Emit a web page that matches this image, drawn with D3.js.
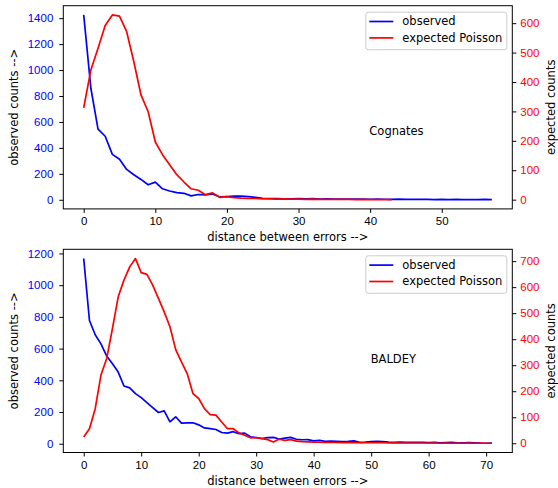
<!DOCTYPE html>
<html>
<head>
  <meta charset="utf-8"/>
  <title>distance between errors</title>
  <script src="https://cdn.jsdelivr.net/npm/d3@7/dist/d3.min.js"></script>
  <style>
    html, body { margin:0; padding:0; background:#fff; }
    svg { display:block; font-family:"DejaVu Sans", sans-serif; }
    .axis text { font-size:11.5px; }
    .axis path, .axis line { stroke:#000; }
  </style>
</head>
<body>
<svg width="558" height="488"></svg>
<script>
// --- data ---
const cognObserved = [1425, 860, 545, 490, 350, 312, 234, 193, 157, 116, 136, 85, 68, 55, 50, 30,
  41, 38, 45, 22, 25, 28, 28, 25, 18, 12, 10, 9, 8, 8, 10, 7, 9, 6, 7, 6, 5, 6, 5, 6, 4, 5, 4, 3,
  5, 3, 3, 4, 3, 2, 3, 2, 3, 2, 2, 1, 3, 2];
const cognExpected = [312, 441, 515, 592, 628, 624, 571, 469, 356, 299, 196, 153, 119, 85, 60, 37,
  32, 17, 23, 8, 10, 7, 5, 4, 4, 3, 3, 2, 3, 2, 2, 1, 2, 1, 1, 1, 1, 1, 0, 1, 0, 0, 0, 0];

const baldObserved = [1168, 777, 687, 630, 553, 504, 452, 364, 352, 316, 291, 259, 228, 197, 207,
  138, 170, 130, 132, 132, 119, 100, 95, 90, 71, 67, 76, 64, 67, 44, 38, 33, 38, 40, 30, 35, 40,
  28, 25, 26, 18, 22, 15, 16, 15, 14, 15, 18, 9, 10, 14, 15, 13, 10, 9, 10, 9, 8, 9, 8, 7, 8, 6,
  7, 8, 6, 5, 7, 6, 4, 3, 4];
const baldExpected = [24, 56, 133, 262, 326, 441, 563, 627, 678, 710, 656, 649, 608, 557, 505, 448,
  360, 313, 268, 191, 172, 133, 110, 108, 82, 56, 56, 40, 31, 21, 22, 18, 14, 5, 16, 11, 14, 8, 6,
  5, 4, 4, 3, 3, 3, 2, 3, 2, 2, 2, 2, 2, 2, 1, 2, 1, 1, 1, 1, 1, 1, 1, 0, 1, 0, 1, 0, 1, 0, 1, 0, 0];

const cognXTicks  = [0, 10, 20, 30, 40, 50];
const cognLTicks  = [0, 200, 400, 600, 800, 1000, 1200, 1400];
const cognRTicks  = [0, 100, 200, 300, 400, 500, 600];
const baldXTicks  = [0, 10, 20, 30, 40, 50, 60, 70];
const baldLTicks  = [0, 200, 400, 600, 800, 1000, 1200];
const baldRTicks  = [0, 100, 200, 300, 400, 500, 600, 700];

const seriesNames = ["observed", "expected Poisson"];
const BLUE = "#0000ff", RED = "#ff0000";
const fmt = d3.format("d");

const svg = d3.select("svg");

// matplotlib style autoscale: 5% margin on each side
function padded(ext) {
  const m = (ext[1] - ext[0]) * 0.05;
  return [ext[0] - m, ext[1] + m];
}

function panel(top, observed, expected, xTicks, lTicks, rTicks, title, titlePos) {
  const L = 63.3, R = 512.3, T = top, B = top + 203.2;
  const g = svg.append("g");

  const n = Math.max(observed.length, expected.length);
  const x  = d3.scaleLinear().domain(padded([0, n - 1])).range([L, R]);
  const yl = d3.scaleLinear().domain(padded(d3.extent(observed))).range([B, T]);
  const yr = d3.scaleLinear().domain(padded(d3.extent(expected))).range([B, T]);

  const line = (ys) => d3.line().x((d, i) => x(i)).y(d => ys(d));

  g.append("path").datum(observed)
    .attr("d", line(yl)).attr("fill", "none")
    .attr("stroke", BLUE).attr("stroke-width", 1.7).attr("stroke-linejoin", "round");
  g.append("path").datum(expected)
    .attr("d", line(yr)).attr("fill", "none")
    .attr("stroke", RED).attr("stroke-width", 1.7).attr("stroke-linejoin", "round");

  // axes
  const ax = g.append("g").attr("class", "axis").attr("transform", `translate(0,${B})`)
    .call(d3.axisBottom(x).tickValues(xTicks).tickFormat(fmt).tickSize(4).tickPadding(4));
  ax.select(".domain").remove();
  ax.selectAll("text").attr("fill", "#000");

  const al = g.append("g").attr("class", "axis").attr("transform", `translate(${L},0)`)
    .call(d3.axisLeft(yl).tickValues(lTicks).tickFormat(fmt).tickSize(4).tickPadding(6));
  al.select(".domain").remove();
  al.selectAll("text").attr("fill", BLUE);

  const ar = g.append("g").attr("class", "axis").attr("transform", `translate(${R},0)`)
    .call(d3.axisRight(yr).tickValues(rTicks).tickFormat(fmt).tickSize(4).tickPadding(4));
  ar.select(".domain").remove();
  ar.selectAll("text").attr("fill", RED);

  // frame
  g.append("rect").attr("x", L).attr("y", T).attr("width", R - L).attr("height", B - T)
    .attr("fill", "none").attr("stroke", "#000").attr("stroke-width", 1);

  // labels
  g.append("text").attr("x", (L + R) / 2).attr("y", B + 32.5)
    .attr("text-anchor", "middle").attr("font-size", 11.5)
    .text("distance between errors -->");
  g.append("text").attr("transform", `translate(17.5,${(T + B) / 2}) rotate(-90)`)
    .attr("text-anchor", "middle").attr("font-size", 11.5)
    .text("observed counts -->");
  g.append("text").attr("transform", `translate(555,${(T + B) / 2}) rotate(-90)`)
    .attr("text-anchor", "middle").attr("font-size", 11.5)
    .text("expected counts");

  g.append("text")
    .attr("x", L + (R - L) * titlePos[0]).attr("y", T + (B - T) * titlePos[1])
    .attr("text-anchor", "middle").attr("dominant-baseline", "central")
    .attr("font-size", 11.5).text(title);

  // legend
  const lg = g.append("g").attr("transform", `translate(${R - 147},${T + 6})`);
  lg.append("rect").attr("x", 0.5).attr("y", 0.5).attr("width", 141).attr("height", 37.5)
    .attr("rx", 2.5).attr("fill", "#fff").attr("fill-opacity", 0.8)
    .attr("stroke", "#cccccc").attr("stroke-width", 1);
  [BLUE, RED].forEach((c, i) => {
    const yy = 9.8 + i * 16.4;
    lg.append("line").attr("x1", 4).attr("x2", 28).attr("y1", yy).attr("y2", yy)
      .attr("stroke", c).attr("stroke-width", 1.7);
    lg.append("text").attr("x", 37).attr("y", yy).attr("dominant-baseline", "central")
      .attr("font-size", 11.5).text(seriesNames[i]);
  });
}

panel(5.7, cognObserved, cognExpected, cognXTicks, cognLTicks, cognRTicks, "Cognates", [0.742, 0.615]);
panel(249.3, baldObserved, baldExpected, baldXTicks, baldLTicks, baldRTicks, "BALDEY", [0.735, 0.542]);
</script>
</body>
</html>
